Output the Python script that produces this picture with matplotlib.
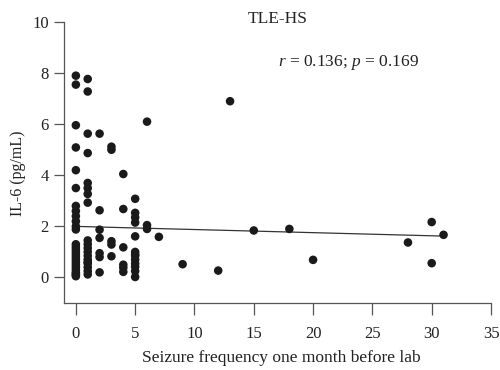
import numpy as np
import matplotlib.pyplot as plt

plt.rcParams["font.family"] = ["Liberation Serif", "DejaVu Serif"]
plt.rcParams["mathtext.fontset"] = "custom"
plt.rcParams["mathtext.it"] = "Liberation Serif:italic"
plt.rcParams["mathtext.rm"] = "Liberation Serif"

# seizure frequency (x) and IL-6 (y)
freq = [0] * 27 + [1] * 19 + [2] * 7 + [3] * 5 + [4] * 6 + [5] * 13 + [6] * 3 + \
       [7, 9, 12, 13, 15, 18, 20, 28, 30, 30, 31]
il6 = [7.9, 7.55, 5.96, 5.09, 4.2, 3.5, 2.8, 2.6, 2.4, 2.2, 2.0, 1.88,
       1.3, 1.2, 1.1, 1.0, 0.9, 0.8, 0.7, 0.6, 0.5, 0.4, 0.3, 0.2, 0.1, 0.05, 0.15,
       7.77, 7.28, 5.63, 4.87, 3.7, 3.5, 3.27, 2.93,
       1.45, 1.3, 1.15, 1.0, 0.85, 0.7, 0.55, 0.4, 0.25, 0.12, 0.6,
       5.63, 2.63, 1.87, 1.55, 0.95, 0.8, 0.2,
       5.12, 5.0, 1.42, 1.29, 0.83,
       4.05, 2.68, 1.18, 0.5, 0.38, 0.22,
       3.08, 2.53, 2.35, 2.15, 1.61, 1.0, 0.85, 0.7, 0.55, 0.42, 0.25, 0.02, 0.9,
       6.1, 2.05, 1.9,
       1.59, 0.52, 0.27, 6.9, 1.84, 1.9, 0.69, 1.37, 2.17, 0.56, 1.67]

fit_x = [0, 31]
fit_y = [2.0, 1.62]

fig = plt.figure(figsize=(5, 3.7), dpi=100)
ax = fig.add_axes([0.128, 0.181, 0.854, 0.7595])

ax.scatter(freq, il6, s=38, color="#1a1a1a", edgecolors="none", zorder=3)
ax.plot(fit_x, fit_y, color="#333333", lw=0.9, zorder=2)

ax.set_xlim(-1, 35)
ax.set_ylim(-1, 10)
ax.set_xticks(range(0, 36, 5))
ax.set_yticks(range(0, 11, 2))

for s in ["top", "right"]:
    ax.spines[s].set_visible(False)
for s in ["left", "bottom"]:
    ax.spines[s].set_color("#555555")
    ax.spines[s].set_linewidth(0.9)
ax.tick_params(width=0.9, color="#555555", labelsize=12, labelcolor="#222222")
ax.tick_params(axis="x", length=8.5, pad=8)
ax.tick_params(axis="y", length=7, pad=4)

ax.set_xlabel("Seizure frequency one month before lab", fontsize=12.5, color="#222222")
ax.xaxis.set_label_coords(0.51, -0.196)
ax.get_xaxis().label.set_va("center")
ax.set_ylabel("IL-6 (pg/mL)", fontsize=11.5, color="#222222")
ax.yaxis.set_label_coords(-0.108, 0.463)
ax.get_yaxis().label.set_va("center")
ax.set_title("TLE-HS", fontsize=12.5, color="#222222", y=1.0, pad=-1)
ax.text(17, 8.4, r"$r$ = 0.136; $p$ = 0.169", fontsize=12.5, color="#222222",
        va="center")

fig.savefig("out.png", dpi=100)
